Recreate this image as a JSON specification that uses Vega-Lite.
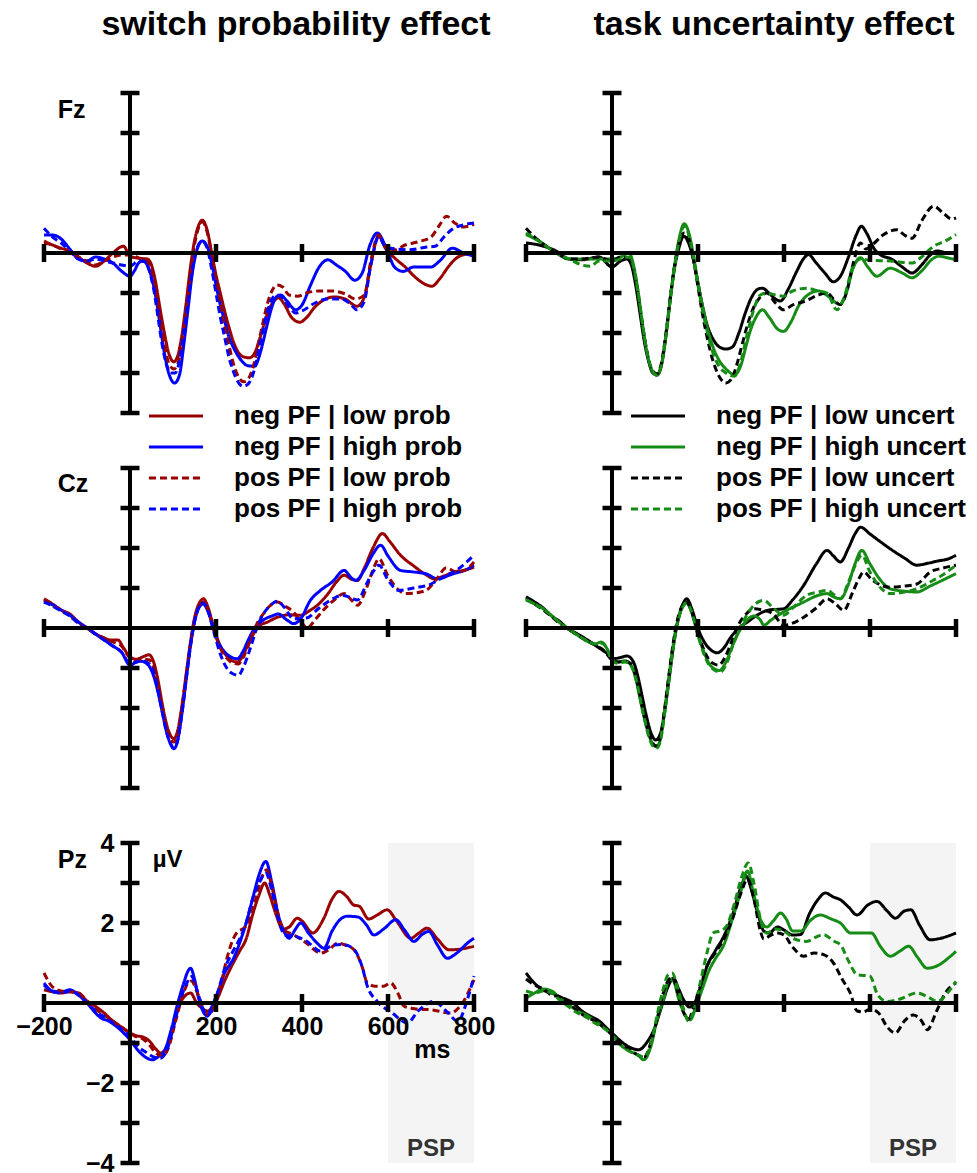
{
"$schema":"https://vega.github.io/schema/vega-lite/v6.json",
"padding":{"left":15,"top":7,"right":0,"bottom":0},
"bounds":"flush",
"config":{"view":{"stroke":null},"font":"Liberation Sans"},
"datasets":{
"xt":[{"t":-200},{"t":200},{"t":400},{"t":600},{"t":800}],
"yt":[{"v":-4},{"v":-3},{"v":-2},{"v":-1},{"v":1},{"v":2},{"v":3},{"v":4}],
"psp":[{"from":600,"to":800}],
"FzL":[
{"c":"nl","t":-200,"v":0.3},{"c":"nl","t":-180,"v":0.2},{"c":"nl","t":-160,"v":0.12},{"c":"nl","t":-140,"v":0.05},{"c":"nl","t":-120,"v":-0.1},{"c":"nl","t":-100,"v":-0.25},{"c":"nl","t":-80,"v":-0.33},{"c":"nl","t":-60,"v":-0.2},{"c":"nl","t":-40,"v":0},{"c":"nl","t":-15,"v":0.17},{"c":"nl","t":0,"v":-0.08},{"c":"nl","t":20,"v":-0.13},{"c":"nl","t":40,"v":-0.15},{"c":"nl","t":50,"v":-0.3},{"c":"nl","t":60,"v":-0.75},{"c":"nl","t":70,"v":-1.4},{"c":"nl","t":80,"v":-2},{"c":"nl","t":90,"v":-2.5},{"c":"nl","t":102,"v":-2.72},{"c":"nl","t":110,"v":-2.6},{"c":"nl","t":120,"v":-2.1},{"c":"nl","t":130,"v":-1.3},{"c":"nl","t":140,"v":-0.4},{"c":"nl","t":150,"v":0.3},{"c":"nl","t":160,"v":0.7},{"c":"nl","t":168,"v":0.82},{"c":"nl","t":180,"v":0.55},{"c":"nl","t":190,"v":0},{"c":"nl","t":200,"v":-0.55},{"c":"nl","t":210,"v":-1},{"c":"nl","t":220,"v":-1.45},{"c":"nl","t":230,"v":-1.85},{"c":"nl","t":240,"v":-2.2},{"c":"nl","t":250,"v":-2.45},{"c":"nl","t":265,"v":-2.6},{"c":"nl","t":278,"v":-2.62},{"c":"nl","t":290,"v":-2.5},{"c":"nl","t":300,"v":-2.2},{"c":"nl","t":310,"v":-1.85},{"c":"nl","t":320,"v":-1.5},{"c":"nl","t":335,"v":-1.2},{"c":"nl","t":345,"v":-1.12},{"c":"nl","t":360,"v":-1.3},{"c":"nl","t":375,"v":-1.6},{"c":"nl","t":395,"v":-1.73},{"c":"nl","t":410,"v":-1.62},{"c":"nl","t":430,"v":-1.35},{"c":"nl","t":455,"v":-1.15},{"c":"nl","t":475,"v":-1.1},{"c":"nl","t":500,"v":-1.15},{"c":"nl","t":528,"v":-1.33},{"c":"nl","t":545,"v":-1.1},{"c":"nl","t":560,"v":-0.3},{"c":"nl","t":578,"v":0.42},{"c":"nl","t":595,"v":0.1},{"c":"nl","t":615,"v":-0.12},{"c":"nl","t":640,"v":-0.35},{"c":"nl","t":665,"v":-0.62},{"c":"nl","t":690,"v":-0.8},{"c":"nl","t":702,"v":-0.83},{"c":"nl","t":720,"v":-0.65},{"c":"nl","t":740,"v":-0.35},{"c":"nl","t":760,"v":-0.12},{"c":"nl","t":780,"v":-0.03},{"c":"nl","t":800,"v":0},
{"c":"nh","t":-200,"v":0.45},{"c":"nh","t":-180,"v":0.45},{"c":"nh","t":-160,"v":0.35},{"c":"nh","t":-140,"v":0.1},{"c":"nh","t":-120,"v":-0.15},{"c":"nh","t":-100,"v":-0.2},{"c":"nh","t":-80,"v":-0.1},{"c":"nh","t":-60,"v":-0.15},{"c":"nh","t":-40,"v":-0.25},{"c":"nh","t":-20,"v":-0.45},{"c":"nh","t":0,"v":-0.58},{"c":"nh","t":10,"v":-0.45},{"c":"nh","t":20,"v":-0.25},{"c":"nh","t":30,"v":-0.2},{"c":"nh","t":40,"v":-0.3},{"c":"nh","t":50,"v":-0.6},{"c":"nh","t":60,"v":-1.1},{"c":"nh","t":70,"v":-1.8},{"c":"nh","t":80,"v":-2.5},{"c":"nh","t":90,"v":-3},{"c":"nh","t":104,"v":-3.25},{"c":"nh","t":115,"v":-3.05},{"c":"nh","t":125,"v":-2.3},{"c":"nh","t":135,"v":-1.4},{"c":"nh","t":145,"v":-0.5},{"c":"nh","t":155,"v":0.05},{"c":"nh","t":168,"v":0.3},{"c":"nh","t":180,"v":0.15},{"c":"nh","t":190,"v":-0.25},{"c":"nh","t":200,"v":-0.8},{"c":"nh","t":210,"v":-1.3},{"c":"nh","t":220,"v":-1.7},{"c":"nh","t":230,"v":-2.1},{"c":"nh","t":240,"v":-2.35},{"c":"nh","t":250,"v":-2.55},{"c":"nh","t":260,"v":-2.7},{"c":"nh","t":275,"v":-2.82},{"c":"nh","t":290,"v":-2.83},{"c":"nh","t":300,"v":-2.6},{"c":"nh","t":310,"v":-2.2},{"c":"nh","t":320,"v":-1.75},{"c":"nh","t":330,"v":-1.35},{"c":"nh","t":340,"v":-1.1},{"c":"nh","t":350,"v":-1.05},{"c":"nh","t":365,"v":-1.2},{"c":"nh","t":385,"v":-1.42},{"c":"nh","t":400,"v":-1.3},{"c":"nh","t":420,"v":-0.8},{"c":"nh","t":440,"v":-0.35},{"c":"nh","t":460,"v":-0.17},{"c":"nh","t":480,"v":-0.3},{"c":"nh","t":500,"v":-0.45},{"c":"nh","t":523,"v":-0.68},{"c":"nh","t":540,"v":-0.5},{"c":"nh","t":558,"v":0.2},{"c":"nh","t":575,"v":0.5},{"c":"nh","t":595,"v":0.15},{"c":"nh","t":615,"v":-0.35},{"c":"nh","t":635,"v":-0.46},{"c":"nh","t":660,"v":-0.35},{"c":"nh","t":700,"v":-0.35},{"c":"nh","t":720,"v":-0.2},{"c":"nh","t":750,"v":0.12},{"c":"nh","t":775,"v":0},{"c":"nh","t":800,"v":-0.08},
{"c":"pl","t":-200,"v":0.25},{"c":"pl","t":-180,"v":0.2},{"c":"pl","t":-160,"v":0.1},{"c":"pl","t":-140,"v":0.05},{"c":"pl","t":-120,"v":-0.1},{"c":"pl","t":-100,"v":-0.2},{"c":"pl","t":-80,"v":-0.3},{"c":"pl","t":-60,"v":-0.2},{"c":"pl","t":-40,"v":-0.1},{"c":"pl","t":-20,"v":-0.05},{"c":"pl","t":0,"v":-0.05},{"c":"pl","t":20,"v":-0.12},{"c":"pl","t":40,"v":-0.2},{"c":"pl","t":50,"v":-0.4},{"c":"pl","t":60,"v":-0.9},{"c":"pl","t":70,"v":-1.6},{"c":"pl","t":80,"v":-2.3},{"c":"pl","t":90,"v":-2.75},{"c":"pl","t":102,"v":-2.9},{"c":"pl","t":112,"v":-2.75},{"c":"pl","t":120,"v":-2.3},{"c":"pl","t":130,"v":-1.5},{"c":"pl","t":140,"v":-0.6},{"c":"pl","t":150,"v":0.2},{"c":"pl","t":160,"v":0.65},{"c":"pl","t":168,"v":0.78},{"c":"pl","t":180,"v":0.5},{"c":"pl","t":190,"v":-0.05},{"c":"pl","t":200,"v":-0.7},{"c":"pl","t":210,"v":-1.3},{"c":"pl","t":220,"v":-1.8},{"c":"pl","t":230,"v":-2.3},{"c":"pl","t":240,"v":-2.75},{"c":"pl","t":250,"v":-3.05},{"c":"pl","t":265,"v":-3.22},{"c":"pl","t":275,"v":-3.15},{"c":"pl","t":290,"v":-2.7},{"c":"pl","t":300,"v":-2.2},{"c":"pl","t":310,"v":-1.7},{"c":"pl","t":320,"v":-1.25},{"c":"pl","t":330,"v":-0.95},{"c":"pl","t":342,"v":-0.8},{"c":"pl","t":355,"v":-0.85},{"c":"pl","t":370,"v":-1.05},{"c":"pl","t":390,"v":-1.08},{"c":"pl","t":410,"v":-1},{"c":"pl","t":440,"v":-0.95},{"c":"pl","t":470,"v":-0.95},{"c":"pl","t":500,"v":-1.02},{"c":"pl","t":525,"v":-1.15},{"c":"pl","t":545,"v":-1.05},{"c":"pl","t":560,"v":-0.2},{"c":"pl","t":578,"v":0.45},{"c":"pl","t":595,"v":0.15},{"c":"pl","t":615,"v":0.08},{"c":"pl","t":640,"v":0.2},{"c":"pl","t":670,"v":0.28},{"c":"pl","t":700,"v":0.4},{"c":"pl","t":720,"v":0.7},{"c":"pl","t":736,"v":0.92},{"c":"pl","t":755,"v":0.75},{"c":"pl","t":775,"v":0.65},{"c":"pl","t":800,"v":0.72},
{"c":"ph","t":-200,"v":0.62},{"c":"ph","t":-180,"v":0.4},{"c":"ph","t":-160,"v":0.25},{"c":"ph","t":-140,"v":0.05},{"c":"ph","t":-120,"v":-0.15},{"c":"ph","t":-100,"v":-0.2},{"c":"ph","t":-80,"v":-0.15},{"c":"ph","t":-60,"v":-0.2},{"c":"ph","t":-40,"v":-0.25},{"c":"ph","t":-20,"v":-0.3},{"c":"ph","t":0,"v":-0.33},{"c":"ph","t":20,"v":-0.2},{"c":"ph","t":35,"v":-0.22},{"c":"ph","t":45,"v":-0.45},{"c":"ph","t":55,"v":-0.9},{"c":"ph","t":65,"v":-1.6},{"c":"ph","t":75,"v":-2.3},{"c":"ph","t":85,"v":-2.8},{"c":"ph","t":95,"v":-3},{"c":"ph","t":105,"v":-3},{"c":"ph","t":115,"v":-2.7},{"c":"ph","t":125,"v":-2},{"c":"ph","t":135,"v":-1.2},{"c":"ph","t":145,"v":-0.4},{"c":"ph","t":155,"v":0.1},{"c":"ph","t":168,"v":0.3},{"c":"ph","t":180,"v":0.1},{"c":"ph","t":190,"v":-0.4},{"c":"ph","t":200,"v":-1},{"c":"ph","t":210,"v":-1.6},{"c":"ph","t":220,"v":-2.1},{"c":"ph","t":230,"v":-2.6},{"c":"ph","t":240,"v":-2.95},{"c":"ph","t":250,"v":-3.2},{"c":"ph","t":262,"v":-3.33},{"c":"ph","t":272,"v":-3.3},{"c":"ph","t":282,"v":-3.15},{"c":"ph","t":292,"v":-2.8},{"c":"ph","t":300,"v":-2.4},{"c":"ph","t":310,"v":-1.9},{"c":"ph","t":320,"v":-1.45},{"c":"ph","t":330,"v":-1.15},{"c":"ph","t":342,"v":-1.05},{"c":"ph","t":355,"v":-1.12},{"c":"ph","t":370,"v":-1.35},{"c":"ph","t":385,"v":-1.5},{"c":"ph","t":400,"v":-1.45},{"c":"ph","t":430,"v":-1.25},{"c":"ph","t":460,"v":-1.15},{"c":"ph","t":490,"v":-1.15},{"c":"ph","t":510,"v":-1.25},{"c":"ph","t":528,"v":-1.42},{"c":"ph","t":545,"v":-1.2},{"c":"ph","t":560,"v":-0.3},{"c":"ph","t":578,"v":0.4},{"c":"ph","t":595,"v":0.15},{"c":"ph","t":620,"v":0.1},{"c":"ph","t":650,"v":0.08},{"c":"ph","t":690,"v":0.15},{"c":"ph","t":710,"v":0.17},{"c":"ph","t":730,"v":0.4},{"c":"ph","t":750,"v":0.6},{"c":"ph","t":775,"v":0.7},{"c":"ph","t":800,"v":0.75}
],
"FzR":[
{"c":"nl","t":-200,"v":0.25},{"c":"nl","t":-170,"v":0.2},{"c":"nl","t":-130,"v":0.05},{"c":"nl","t":-100,"v":-0.15},{"c":"nl","t":-70,"v":-0.17},{"c":"nl","t":-30,"v":-0.1},{"c":"nl","t":0,"v":-0.35},{"c":"nl","t":20,"v":-0.2},{"c":"nl","t":35,"v":-0.15},{"c":"nl","t":45,"v":-0.3},{"c":"nl","t":55,"v":-0.8},{"c":"nl","t":65,"v":-1.5},{"c":"nl","t":75,"v":-2.2},{"c":"nl","t":85,"v":-2.7},{"c":"nl","t":95,"v":-3},{"c":"nl","t":105,"v":-3.05},{"c":"nl","t":115,"v":-2.8},{"c":"nl","t":125,"v":-2.1},{"c":"nl","t":135,"v":-1.2},{"c":"nl","t":145,"v":-0.4},{"c":"nl","t":155,"v":0.1},{"c":"nl","t":167,"v":0.42},{"c":"nl","t":178,"v":0.25},{"c":"nl","t":190,"v":-0.2},{"c":"nl","t":200,"v":-0.75},{"c":"nl","t":210,"v":-1.3},{"c":"nl","t":220,"v":-1.75},{"c":"nl","t":235,"v":-2.15},{"c":"nl","t":250,"v":-2.35},{"c":"nl","t":265,"v":-2.4},{"c":"nl","t":280,"v":-2.35},{"c":"nl","t":295,"v":-2},{"c":"nl","t":310,"v":-1.5},{"c":"nl","t":325,"v":-1.1},{"c":"nl","t":340,"v":-0.9},{"c":"nl","t":350,"v":-0.88},{"c":"nl","t":365,"v":-1},{"c":"nl","t":380,"v":-1.15},{"c":"nl","t":392,"v":-1.2},{"c":"nl","t":410,"v":-0.9},{"c":"nl","t":430,"v":-0.45},{"c":"nl","t":445,"v":-0.15},{"c":"nl","t":457,"v":-0.04},{"c":"nl","t":475,"v":-0.25},{"c":"nl","t":495,"v":-0.5},{"c":"nl","t":515,"v":-0.72},{"c":"nl","t":530,"v":-0.6},{"c":"nl","t":550,"v":-0.1},{"c":"nl","t":568,"v":0.45},{"c":"nl","t":580,"v":0.67},{"c":"nl","t":592,"v":0.5},{"c":"nl","t":610,"v":0.1},{"c":"nl","t":625,"v":-0.05},{"c":"nl","t":650,"v":-0.15},{"c":"nl","t":675,"v":-0.35},{"c":"nl","t":698,"v":-0.5},{"c":"nl","t":720,"v":-0.3},{"c":"nl","t":740,"v":-0.05},{"c":"nl","t":756,"v":0.05},{"c":"nl","t":780,"v":0},{"c":"nl","t":800,"v":-0.02},
{"c":"nh","t":-200,"v":0.46},{"c":"nh","t":-170,"v":0.3},{"c":"nh","t":-130,"v":0},{"c":"nh","t":-100,"v":-0.15},{"c":"nh","t":-70,"v":-0.15},{"c":"nh","t":-30,"v":-0.15},{"c":"nh","t":0,"v":-0.15},{"c":"nh","t":20,"v":-0.1},{"c":"nh","t":40,"v":0},{"c":"nh","t":50,"v":-0.3},{"c":"nh","t":60,"v":-0.9},{"c":"nh","t":70,"v":-1.7},{"c":"nh","t":80,"v":-2.4},{"c":"nh","t":90,"v":-2.85},{"c":"nh","t":104,"v":-3.05},{"c":"nh","t":115,"v":-2.8},{"c":"nh","t":125,"v":-2.1},{"c":"nh","t":135,"v":-1.2},{"c":"nh","t":145,"v":-0.35},{"c":"nh","t":155,"v":0.3},{"c":"nh","t":168,"v":0.73},{"c":"nh","t":180,"v":0.45},{"c":"nh","t":190,"v":-0.1},{"c":"nh","t":200,"v":-0.75},{"c":"nh","t":210,"v":-1.3},{"c":"nh","t":220,"v":-1.8},{"c":"nh","t":235,"v":-2.35},{"c":"nh","t":250,"v":-2.7},{"c":"nh","t":265,"v":-2.9},{"c":"nh","t":285,"v":-3.04},{"c":"nh","t":300,"v":-2.8},{"c":"nh","t":310,"v":-2.4},{"c":"nh","t":320,"v":-2},{"c":"nh","t":335,"v":-1.6},{"c":"nh","t":350,"v":-1.42},{"c":"nh","t":365,"v":-1.6},{"c":"nh","t":385,"v":-1.9},{"c":"nh","t":399,"v":-1.96},{"c":"nh","t":415,"v":-1.75},{"c":"nh","t":435,"v":-1.3},{"c":"nh","t":455,"v":-1.05},{"c":"nh","t":480,"v":-0.95},{"c":"nh","t":505,"v":-1.1},{"c":"nh","t":530,"v":-1.29},{"c":"nh","t":545,"v":-1},{"c":"nh","t":560,"v":-0.4},{"c":"nh","t":578,"v":-0.12},{"c":"nh","t":595,"v":-0.35},{"c":"nh","t":616,"v":-0.58},{"c":"nh","t":647,"v":-0.38},{"c":"nh","t":675,"v":-0.5},{"c":"nh","t":698,"v":-0.62},{"c":"nh","t":720,"v":-0.45},{"c":"nh","t":745,"v":-0.15},{"c":"nh","t":760,"v":-0.08},{"c":"nh","t":780,"v":-0.12},{"c":"nh","t":800,"v":-0.17},
{"c":"pl","t":-200,"v":0.62},{"c":"pl","t":-180,"v":0.4},{"c":"pl","t":-150,"v":0.15},{"c":"pl","t":-120,"v":-0.05},{"c":"pl","t":-100,"v":-0.15},{"c":"pl","t":-70,"v":-0.15},{"c":"pl","t":-30,"v":-0.1},{"c":"pl","t":0,"v":-0.2},{"c":"pl","t":20,"v":-0.1},{"c":"pl","t":40,"v":-0.15},{"c":"pl","t":50,"v":-0.4},{"c":"pl","t":60,"v":-1},{"c":"pl","t":70,"v":-1.75},{"c":"pl","t":80,"v":-2.4},{"c":"pl","t":90,"v":-2.85},{"c":"pl","t":104,"v":-3.02},{"c":"pl","t":115,"v":-2.75},{"c":"pl","t":125,"v":-2.05},{"c":"pl","t":135,"v":-1.15},{"c":"pl","t":145,"v":-0.35},{"c":"pl","t":155,"v":0.2},{"c":"pl","t":168,"v":0.5},{"c":"pl","t":180,"v":0.3},{"c":"pl","t":190,"v":-0.2},{"c":"pl","t":200,"v":-0.85},{"c":"pl","t":210,"v":-1.5},{"c":"pl","t":220,"v":-2.05},{"c":"pl","t":235,"v":-2.7},{"c":"pl","t":250,"v":-3.1},{"c":"pl","t":265,"v":-3.25},{"c":"pl","t":278,"v":-3.15},{"c":"pl","t":290,"v":-2.8},{"c":"pl","t":300,"v":-2.4},{"c":"pl","t":315,"v":-1.8},{"c":"pl","t":330,"v":-1.35},{"c":"pl","t":345,"v":-1.1},{"c":"pl","t":360,"v":-1},{"c":"pl","t":380,"v":-1.25},{"c":"pl","t":399,"v":-1.42},{"c":"pl","t":420,"v":-1.3},{"c":"pl","t":450,"v":-1.2},{"c":"pl","t":480,"v":-1.05},{"c":"pl","t":500,"v":-1},{"c":"pl","t":515,"v":-1.15},{"c":"pl","t":530,"v":-1.29},{"c":"pl","t":545,"v":-1},{"c":"pl","t":560,"v":-0.3},{"c":"pl","t":578,"v":0.25},{"c":"pl","t":590,"v":0.1},{"c":"pl","t":605,"v":0.2},{"c":"pl","t":630,"v":0.45},{"c":"pl","t":663,"v":0.58},{"c":"pl","t":680,"v":0.45},{"c":"pl","t":698,"v":0.37},{"c":"pl","t":720,"v":0.8},{"c":"pl","t":748,"v":1.17},{"c":"pl","t":770,"v":1},{"c":"pl","t":790,"v":0.85},{"c":"pl","t":800,"v":0.88},
{"c":"ph","t":-200,"v":0.5},{"c":"ph","t":-170,"v":0.3},{"c":"ph","t":-130,"v":0},{"c":"ph","t":-100,"v":-0.15},{"c":"ph","t":-70,"v":-0.3},{"c":"ph","t":-50,"v":-0.33},{"c":"ph","t":-30,"v":-0.2},{"c":"ph","t":0,"v":-0.2},{"c":"ph","t":20,"v":-0.15},{"c":"ph","t":40,"v":-0.1},{"c":"ph","t":50,"v":-0.35},{"c":"ph","t":60,"v":-0.95},{"c":"ph","t":70,"v":-1.7},{"c":"ph","t":80,"v":-2.4},{"c":"ph","t":90,"v":-2.85},{"c":"ph","t":104,"v":-3.05},{"c":"ph","t":115,"v":-2.8},{"c":"ph","t":125,"v":-2.1},{"c":"ph","t":135,"v":-1.2},{"c":"ph","t":145,"v":-0.4},{"c":"ph","t":155,"v":0.25},{"c":"ph","t":168,"v":0.67},{"c":"ph","t":180,"v":0.4},{"c":"ph","t":190,"v":-0.15},{"c":"ph","t":200,"v":-0.8},{"c":"ph","t":210,"v":-1.4},{"c":"ph","t":220,"v":-1.9},{"c":"ph","t":235,"v":-2.5},{"c":"ph","t":250,"v":-2.85},{"c":"ph","t":265,"v":-3},{"c":"ph","t":285,"v":-3.08},{"c":"ph","t":300,"v":-2.7},{"c":"ph","t":315,"v":-2},{"c":"ph","t":330,"v":-1.4},{"c":"ph","t":345,"v":-1.05},{"c":"ph","t":360,"v":-1},{"c":"ph","t":380,"v":-1.05},{"c":"ph","t":399,"v":-1.08},{"c":"ph","t":420,"v":-0.95},{"c":"ph","t":453,"v":-0.88},{"c":"ph","t":480,"v":-0.95},{"c":"ph","t":500,"v":-1},{"c":"ph","t":523,"v":-1.42},{"c":"ph","t":540,"v":-1.1},{"c":"ph","t":560,"v":-0.35},{"c":"ph","t":578,"v":-0.15},{"c":"ph","t":600,"v":-0.18},{"c":"ph","t":647,"v":-0.2},{"c":"ph","t":698,"v":-0.25},{"c":"ph","t":720,"v":-0.1},{"c":"ph","t":748,"v":0.17},{"c":"ph","t":775,"v":0.3},{"c":"ph","t":800,"v":0.46}
],
"CzL":[
{"c":"nl","t":-200,"v":0.73},{"c":"nl","t":-180,"v":0.6},{"c":"nl","t":-160,"v":0.45},{"c":"nl","t":-140,"v":0.35},{"c":"nl","t":-120,"v":0.15},{"c":"nl","t":-100,"v":0},{"c":"nl","t":-80,"v":-0.15},{"c":"nl","t":-60,"v":-0.25},{"c":"nl","t":-45,"v":-0.3},{"c":"nl","t":-28,"v":-0.3},{"c":"nl","t":-15,"v":-0.5},{"c":"nl","t":0,"v":-0.72},{"c":"nl","t":15,"v":-0.78},{"c":"nl","t":30,"v":-0.72},{"c":"nl","t":44,"v":-0.67},{"c":"nl","t":55,"v":-0.85},{"c":"nl","t":65,"v":-1.3},{"c":"nl","t":75,"v":-1.9},{"c":"nl","t":85,"v":-2.4},{"c":"nl","t":95,"v":-2.7},{"c":"nl","t":102,"v":-2.77},{"c":"nl","t":110,"v":-2.6},{"c":"nl","t":120,"v":-2},{"c":"nl","t":130,"v":-1.2},{"c":"nl","t":140,"v":-0.4},{"c":"nl","t":150,"v":0.25},{"c":"nl","t":160,"v":0.6},{"c":"nl","t":171,"v":0.73},{"c":"nl","t":182,"v":0.5},{"c":"nl","t":195,"v":0},{"c":"nl","t":210,"v":-0.45},{"c":"nl","t":225,"v":-0.7},{"c":"nl","t":240,"v":-0.83},{"c":"nl","t":250,"v":-0.85},{"c":"nl","t":262,"v":-0.7},{"c":"nl","t":275,"v":-0.4},{"c":"nl","t":290,"v":-0.1},{"c":"nl","t":300,"v":0.05},{"c":"nl","t":320,"v":0.15},{"c":"nl","t":343,"v":0.27},{"c":"nl","t":370,"v":0.33},{"c":"nl","t":397,"v":0.32},{"c":"nl","t":420,"v":0.45},{"c":"nl","t":436,"v":0.57},{"c":"nl","t":460,"v":0.85},{"c":"nl","t":480,"v":1.15},{"c":"nl","t":498,"v":1.32},{"c":"nl","t":515,"v":1.22},{"c":"nl","t":529,"v":1.19},{"c":"nl","t":545,"v":1.5},{"c":"nl","t":565,"v":2},{"c":"nl","t":587,"v":2.36},{"c":"nl","t":605,"v":2.15},{"c":"nl","t":629,"v":1.82},{"c":"nl","t":660,"v":1.55},{"c":"nl","t":690,"v":1.32},{"c":"nl","t":707,"v":1.23},{"c":"nl","t":730,"v":1.3},{"c":"nl","t":753,"v":1.4},{"c":"nl","t":780,"v":1.45},{"c":"nl","t":800,"v":1.52},
{"c":"nh","t":-200,"v":0.65},{"c":"nh","t":-180,"v":0.58},{"c":"nh","t":-160,"v":0.45},{"c":"nh","t":-140,"v":0.32},{"c":"nh","t":-120,"v":0.15},{"c":"nh","t":-100,"v":0},{"c":"nh","t":-80,"v":-0.15},{"c":"nh","t":-60,"v":-0.3},{"c":"nh","t":-40,"v":-0.45},{"c":"nh","t":-20,"v":-0.6},{"c":"nh","t":0,"v":-0.93},{"c":"nh","t":15,"v":-0.85},{"c":"nh","t":25,"v":-0.83},{"c":"nh","t":40,"v":-0.9},{"c":"nh","t":55,"v":-1.2},{"c":"nh","t":65,"v":-1.6},{"c":"nh","t":75,"v":-2.1},{"c":"nh","t":85,"v":-2.6},{"c":"nh","t":95,"v":-2.92},{"c":"nh","t":102,"v":-3.02},{"c":"nh","t":110,"v":-2.85},{"c":"nh","t":120,"v":-2.2},{"c":"nh","t":130,"v":-1.35},{"c":"nh","t":140,"v":-0.5},{"c":"nh","t":150,"v":0.15},{"c":"nh","t":160,"v":0.5},{"c":"nh","t":170,"v":0.6},{"c":"nh","t":182,"v":0.4},{"c":"nh","t":195,"v":-0.05},{"c":"nh","t":210,"v":-0.45},{"c":"nh","t":225,"v":-0.65},{"c":"nh","t":240,"v":-0.75},{"c":"nh","t":250,"v":-0.77},{"c":"nh","t":262,"v":-0.6},{"c":"nh","t":275,"v":-0.3},{"c":"nh","t":290,"v":0},{"c":"nh","t":310,"v":0.2},{"c":"nh","t":330,"v":0.3},{"c":"nh","t":345,"v":0.35},{"c":"nh","t":365,"v":0.2},{"c":"nh","t":380,"v":0.11},{"c":"nh","t":395,"v":0.2},{"c":"nh","t":420,"v":0.7},{"c":"nh","t":443,"v":0.94},{"c":"nh","t":470,"v":1.15},{"c":"nh","t":498,"v":1.44},{"c":"nh","t":515,"v":1.25},{"c":"nh","t":525,"v":1.19},{"c":"nh","t":545,"v":1.45},{"c":"nh","t":565,"v":1.85},{"c":"nh","t":583,"v":2.07},{"c":"nh","t":600,"v":1.8},{"c":"nh","t":629,"v":1.44},{"c":"nh","t":660,"v":1.4},{"c":"nh","t":690,"v":1.35},{"c":"nh","t":715,"v":1.23},{"c":"nh","t":750,"v":1.35},{"c":"nh","t":780,"v":1.45},{"c":"nh","t":800,"v":1.57},
{"c":"pl","t":-200,"v":0.7},{"c":"pl","t":-180,"v":0.55},{"c":"pl","t":-160,"v":0.45},{"c":"pl","t":-140,"v":0.3},{"c":"pl","t":-120,"v":0.12},{"c":"pl","t":-100,"v":0},{"c":"pl","t":-80,"v":-0.15},{"c":"pl","t":-60,"v":-0.25},{"c":"pl","t":-40,"v":-0.35},{"c":"pl","t":-20,"v":-0.45},{"c":"pl","t":0,"v":-0.75},{"c":"pl","t":15,"v":-0.8},{"c":"pl","t":30,"v":-0.78},{"c":"pl","t":45,"v":-0.8},{"c":"pl","t":55,"v":-1},{"c":"pl","t":65,"v":-1.45},{"c":"pl","t":75,"v":-2},{"c":"pl","t":85,"v":-2.5},{"c":"pl","t":95,"v":-2.8},{"c":"pl","t":102,"v":-2.85},{"c":"pl","t":110,"v":-2.7},{"c":"pl","t":120,"v":-2.05},{"c":"pl","t":130,"v":-1.25},{"c":"pl","t":140,"v":-0.45},{"c":"pl","t":150,"v":0.2},{"c":"pl","t":160,"v":0.55},{"c":"pl","t":170,"v":0.65},{"c":"pl","t":182,"v":0.45},{"c":"pl","t":195,"v":-0.05},{"c":"pl","t":210,"v":-0.5},{"c":"pl","t":225,"v":-0.75},{"c":"pl","t":240,"v":-0.88},{"c":"pl","t":252,"v":-0.9},{"c":"pl","t":265,"v":-0.7},{"c":"pl","t":280,"v":-0.3},{"c":"pl","t":295,"v":0.1},{"c":"pl","t":310,"v":0.35},{"c":"pl","t":325,"v":0.55},{"c":"pl","t":343,"v":0.65},{"c":"pl","t":360,"v":0.55},{"c":"pl","t":380,"v":0.4},{"c":"pl","t":398,"v":0.15},{"c":"pl","t":412,"v":0},{"c":"pl","t":430,"v":0.2},{"c":"pl","t":450,"v":0.45},{"c":"pl","t":475,"v":0.7},{"c":"pl","t":498,"v":0.86},{"c":"pl","t":515,"v":0.7},{"c":"pl","t":529,"v":0.57},{"c":"pl","t":550,"v":1},{"c":"pl","t":565,"v":1.45},{"c":"pl","t":579,"v":1.73},{"c":"pl","t":600,"v":1.3},{"c":"pl","t":625,"v":0.95},{"c":"pl","t":640,"v":0.86},{"c":"pl","t":665,"v":0.88},{"c":"pl","t":690,"v":0.95},{"c":"pl","t":715,"v":1.25},{"c":"pl","t":735,"v":1.5},{"c":"pl","t":760,"v":1.4},{"c":"pl","t":780,"v":1.45},{"c":"pl","t":800,"v":1.65},
{"c":"ph","t":-200,"v":0.65},{"c":"ph","t":-180,"v":0.55},{"c":"ph","t":-160,"v":0.42},{"c":"ph","t":-140,"v":0.3},{"c":"ph","t":-120,"v":0.12},{"c":"ph","t":-100,"v":0},{"c":"ph","t":-80,"v":-0.15},{"c":"ph","t":-60,"v":-0.3},{"c":"ph","t":-40,"v":-0.45},{"c":"ph","t":-20,"v":-0.6},{"c":"ph","t":0,"v":-0.88},{"c":"ph","t":15,"v":-0.85},{"c":"ph","t":30,"v":-0.82},{"c":"ph","t":45,"v":-0.9},{"c":"ph","t":55,"v":-1.1},{"c":"ph","t":65,"v":-1.55},{"c":"ph","t":75,"v":-2.1},{"c":"ph","t":85,"v":-2.6},{"c":"ph","t":95,"v":-2.9},{"c":"ph","t":102,"v":-3},{"c":"ph","t":110,"v":-2.85},{"c":"ph","t":120,"v":-2.2},{"c":"ph","t":130,"v":-1.35},{"c":"ph","t":140,"v":-0.5},{"c":"ph","t":150,"v":0.15},{"c":"ph","t":160,"v":0.52},{"c":"ph","t":170,"v":0.62},{"c":"ph","t":182,"v":0.4},{"c":"ph","t":195,"v":-0.1},{"c":"ph","t":210,"v":-0.65},{"c":"ph","t":225,"v":-1},{"c":"ph","t":240,"v":-1.15},{"c":"ph","t":252,"v":-1.18},{"c":"ph","t":265,"v":-0.95},{"c":"ph","t":280,"v":-0.5},{"c":"ph","t":295,"v":0},{"c":"ph","t":310,"v":0.35},{"c":"ph","t":325,"v":0.55},{"c":"ph","t":343,"v":0.67},{"c":"ph","t":360,"v":0.5},{"c":"ph","t":380,"v":0.23},{"c":"ph","t":410,"v":0.25},{"c":"ph","t":440,"v":0.5},{"c":"ph","t":475,"v":0.75},{"c":"ph","t":495,"v":0.82},{"c":"ph","t":515,"v":0.75},{"c":"ph","t":529,"v":0.7},{"c":"ph","t":550,"v":1.1},{"c":"ph","t":565,"v":1.4},{"c":"ph","t":579,"v":1.57},{"c":"ph","t":600,"v":1.2},{"c":"ph","t":625,"v":0.94},{"c":"ph","t":660,"v":1},{"c":"ph","t":700,"v":1.1},{"c":"ph","t":722,"v":1.23},{"c":"ph","t":760,"v":1.45},{"c":"ph","t":800,"v":1.82}
],
"CzR":[
{"c":"nl","t":-200,"v":0.78},{"c":"nl","t":-180,"v":0.65},{"c":"nl","t":-160,"v":0.5},{"c":"nl","t":-140,"v":0.3},{"c":"nl","t":-120,"v":0.15},{"c":"nl","t":-105,"v":0},{"c":"nl","t":-80,"v":-0.15},{"c":"nl","t":-60,"v":-0.28},{"c":"nl","t":-50,"v":-0.35},{"c":"nl","t":-30,"v":-0.5},{"c":"nl","t":-10,"v":-0.65},{"c":"nl","t":0,"v":-0.77},{"c":"nl","t":15,"v":-0.75},{"c":"nl","t":35,"v":-0.7},{"c":"nl","t":50,"v":-0.85},{"c":"nl","t":60,"v":-1.2},{"c":"nl","t":70,"v":-1.7},{"c":"nl","t":80,"v":-2.2},{"c":"nl","t":90,"v":-2.6},{"c":"nl","t":102,"v":-2.8},{"c":"nl","t":115,"v":-2.55},{"c":"nl","t":125,"v":-1.9},{"c":"nl","t":135,"v":-1.1},{"c":"nl","t":145,"v":-0.3},{"c":"nl","t":155,"v":0.25},{"c":"nl","t":165,"v":0.6},{"c":"nl","t":174,"v":0.73},{"c":"nl","t":185,"v":0.5},{"c":"nl","t":198,"v":0.05},{"c":"nl","t":212,"v":-0.3},{"c":"nl","t":230,"v":-0.55},{"c":"nl","t":245,"v":-0.62},{"c":"nl","t":260,"v":-0.5},{"c":"nl","t":275,"v":-0.25},{"c":"nl","t":295,"v":0},{"c":"nl","t":315,"v":0.15},{"c":"nl","t":337,"v":0.32},{"c":"nl","t":365,"v":0.45},{"c":"nl","t":399,"v":0.48},{"c":"nl","t":420,"v":0.7},{"c":"nl","t":446,"v":1.07},{"c":"nl","t":475,"v":1.6},{"c":"nl","t":500,"v":1.94},{"c":"nl","t":515,"v":1.8},{"c":"nl","t":531,"v":1.65},{"c":"nl","t":550,"v":2},{"c":"nl","t":565,"v":2.35},{"c":"nl","t":578,"v":2.52},{"c":"nl","t":600,"v":2.35},{"c":"nl","t":625,"v":2.15},{"c":"nl","t":647,"v":1.98},{"c":"nl","t":680,"v":1.75},{"c":"nl","t":709,"v":1.57},{"c":"nl","t":735,"v":1.62},{"c":"nl","t":760,"v":1.68},{"c":"nl","t":780,"v":1.72},{"c":"nl","t":800,"v":1.82},
{"c":"nh","t":-200,"v":0.7},{"c":"nh","t":-180,"v":0.6},{"c":"nh","t":-160,"v":0.48},{"c":"nh","t":-140,"v":0.3},{"c":"nh","t":-120,"v":0.12},{"c":"nh","t":-105,"v":0},{"c":"nh","t":-80,"v":-0.18},{"c":"nh","t":-60,"v":-0.32},{"c":"nh","t":-40,"v":-0.4},{"c":"nh","t":-25,"v":-0.35},{"c":"nh","t":-10,"v":-0.55},{"c":"nh","t":0,"v":-0.8},{"c":"nh","t":15,"v":-0.85},{"c":"nh","t":30,"v":-0.82},{"c":"nh","t":45,"v":-0.95},{"c":"nh","t":55,"v":-1.25},{"c":"nh","t":65,"v":-1.75},{"c":"nh","t":75,"v":-2.25},{"c":"nh","t":85,"v":-2.65},{"c":"nh","t":95,"v":-2.9},{"c":"nh","t":103,"v":-2.97},{"c":"nh","t":112,"v":-2.8},{"c":"nh","t":122,"v":-2.1},{"c":"nh","t":132,"v":-1.25},{"c":"nh","t":142,"v":-0.45},{"c":"nh","t":152,"v":0.15},{"c":"nh","t":163,"v":0.5},{"c":"nh","t":174,"v":0.63},{"c":"nh","t":185,"v":0.4},{"c":"nh","t":198,"v":-0.1},{"c":"nh","t":212,"v":-0.55},{"c":"nh","t":230,"v":-0.95},{"c":"nh","t":250,"v":-1.06},{"c":"nh","t":265,"v":-0.85},{"c":"nh","t":280,"v":-0.45},{"c":"nh","t":295,"v":-0.1},{"c":"nh","t":310,"v":0.15},{"c":"nh","t":330,"v":0.3},{"c":"nh","t":345,"v":0.2},{"c":"nh","t":353,"v":0.07},{"c":"nh","t":370,"v":0.2},{"c":"nh","t":399,"v":0.4},{"c":"nh","t":446,"v":0.65},{"c":"nh","t":475,"v":0.8},{"c":"nh","t":500,"v":0.86},{"c":"nh","t":515,"v":0.78},{"c":"nh","t":531,"v":0.73},{"c":"nh","t":550,"v":1.1},{"c":"nh","t":565,"v":1.6},{"c":"nh","t":581,"v":1.94},{"c":"nh","t":600,"v":1.6},{"c":"nh","t":622,"v":1.23},{"c":"nh","t":647,"v":0.98},{"c":"nh","t":680,"v":0.92},{"c":"nh","t":709,"v":0.9},{"c":"nh","t":740,"v":1.05},{"c":"nh","t":760,"v":1.15},{"c":"nh","t":800,"v":1.36},
{"c":"pl","t":-200,"v":0.75},{"c":"pl","t":-180,"v":0.6},{"c":"pl","t":-160,"v":0.45},{"c":"pl","t":-140,"v":0.28},{"c":"pl","t":-120,"v":0.1},{"c":"pl","t":-105,"v":0},{"c":"pl","t":-80,"v":-0.18},{"c":"pl","t":-60,"v":-0.3},{"c":"pl","t":-40,"v":-0.42},{"c":"pl","t":-20,"v":-0.55},{"c":"pl","t":0,"v":-0.8},{"c":"pl","t":15,"v":-0.85},{"c":"pl","t":30,"v":-0.83},{"c":"pl","t":45,"v":-0.9},{"c":"pl","t":55,"v":-1.2},{"c":"pl","t":65,"v":-1.7},{"c":"pl","t":75,"v":-2.2},{"c":"pl","t":85,"v":-2.6},{"c":"pl","t":95,"v":-2.88},{"c":"pl","t":103,"v":-2.95},{"c":"pl","t":112,"v":-2.75},{"c":"pl","t":122,"v":-2.05},{"c":"pl","t":132,"v":-1.2},{"c":"pl","t":142,"v":-0.4},{"c":"pl","t":152,"v":0.2},{"c":"pl","t":163,"v":0.55},{"c":"pl","t":172,"v":0.65},{"c":"pl","t":185,"v":0.42},{"c":"pl","t":198,"v":-0.05},{"c":"pl","t":212,"v":-0.5},{"c":"pl","t":230,"v":-0.85},{"c":"pl","t":248,"v":-0.93},{"c":"pl","t":262,"v":-0.75},{"c":"pl","t":278,"v":-0.35},{"c":"pl","t":295,"v":0.1},{"c":"pl","t":312,"v":0.35},{"c":"pl","t":330,"v":0.48},{"c":"pl","t":350,"v":0.45},{"c":"pl","t":375,"v":0.35},{"c":"pl","t":399,"v":0.07},{"c":"pl","t":420,"v":0.12},{"c":"pl","t":446,"v":0.27},{"c":"pl","t":475,"v":0.5},{"c":"pl","t":500,"v":0.73},{"c":"pl","t":520,"v":0.6},{"c":"pl","t":539,"v":0.44},{"c":"pl","t":560,"v":0.9},{"c":"pl","t":575,"v":1.25},{"c":"pl","t":585,"v":1.4},{"c":"pl","t":605,"v":1.2},{"c":"pl","t":647,"v":1.02},{"c":"pl","t":680,"v":1.05},{"c":"pl","t":709,"v":1.1},{"c":"pl","t":740,"v":1.4},{"c":"pl","t":770,"v":1.5},{"c":"pl","t":800,"v":1.57},
{"c":"ph","t":-200,"v":0.72},{"c":"ph","t":-180,"v":0.6},{"c":"ph","t":-160,"v":0.47},{"c":"ph","t":-140,"v":0.3},{"c":"ph","t":-120,"v":0.12},{"c":"ph","t":-105,"v":0},{"c":"ph","t":-80,"v":-0.18},{"c":"ph","t":-60,"v":-0.3},{"c":"ph","t":-40,"v":-0.4},{"c":"ph","t":-25,"v":-0.38},{"c":"ph","t":-10,"v":-0.55},{"c":"ph","t":0,"v":-0.85},{"c":"ph","t":15,"v":-0.88},{"c":"ph","t":30,"v":-0.85},{"c":"ph","t":45,"v":-0.95},{"c":"ph","t":55,"v":-1.25},{"c":"ph","t":65,"v":-1.75},{"c":"ph","t":75,"v":-2.25},{"c":"ph","t":85,"v":-2.7},{"c":"ph","t":95,"v":-2.95},{"c":"ph","t":104,"v":-3},{"c":"ph","t":113,"v":-2.8},{"c":"ph","t":123,"v":-2.1},{"c":"ph","t":133,"v":-1.25},{"c":"ph","t":143,"v":-0.45},{"c":"ph","t":153,"v":0.15},{"c":"ph","t":163,"v":0.5},{"c":"ph","t":173,"v":0.62},{"c":"ph","t":185,"v":0.4},{"c":"ph","t":198,"v":-0.1},{"c":"ph","t":212,"v":-0.6},{"c":"ph","t":230,"v":-0.98},{"c":"ph","t":252,"v":-1.1},{"c":"ph","t":268,"v":-0.85},{"c":"ph","t":282,"v":-0.4},{"c":"ph","t":298,"v":0},{"c":"ph","t":315,"v":0.35},{"c":"ph","t":333,"v":0.6},{"c":"ph","t":353,"v":0.69},{"c":"ph","t":375,"v":0.5},{"c":"ph","t":399,"v":0.32},{"c":"ph","t":420,"v":0.5},{"c":"ph","t":453,"v":0.82},{"c":"ph","t":480,"v":0.9},{"c":"ph","t":500,"v":0.94},{"c":"ph","t":520,"v":0.8},{"c":"ph","t":531,"v":0.73},{"c":"ph","t":550,"v":1.15},{"c":"ph","t":567,"v":1.6},{"c":"ph","t":581,"v":1.82},{"c":"ph","t":600,"v":1.4},{"c":"ph","t":625,"v":1},{"c":"ph","t":647,"v":0.86},{"c":"ph","t":680,"v":0.9},{"c":"ph","t":709,"v":0.98},{"c":"ph","t":740,"v":1.15},{"c":"ph","t":765,"v":1.3},{"c":"ph","t":800,"v":1.57}
],
"PzL":[
{"c":"nl","t":-200,"v":0.33},{"c":"nl","t":-180,"v":0.28},{"c":"nl","t":-160,"v":0.25},{"c":"nl","t":-140,"v":0.28},{"c":"nl","t":-120,"v":0.25},{"c":"nl","t":-100,"v":0.05},{"c":"nl","t":-85,"v":-0.05},{"c":"nl","t":-60,"v":-0.25},{"c":"nl","t":-40,"v":-0.45},{"c":"nl","t":-20,"v":-0.6},{"c":"nl","t":0,"v":-0.75},{"c":"nl","t":15,"v":-0.82},{"c":"nl","t":30,"v":-0.85},{"c":"nl","t":45,"v":-0.95},{"c":"nl","t":60,"v":-1.15},{"c":"nl","t":71,"v":-1.25},{"c":"nl","t":85,"v":-1.1},{"c":"nl","t":100,"v":-0.6},{"c":"nl","t":115,"v":-0.05},{"c":"nl","t":130,"v":0.2},{"c":"nl","t":141,"v":0.25},{"c":"nl","t":155,"v":0},{"c":"nl","t":170,"v":-0.15},{"c":"nl","t":180,"v":-0.2},{"c":"nl","t":192,"v":-0.1},{"c":"nl","t":205,"v":0.15},{"c":"nl","t":220,"v":0.55},{"c":"nl","t":240,"v":1},{"c":"nl","t":255,"v":1.3},{"c":"nl","t":270,"v":1.6},{"c":"nl","t":285,"v":2.2},{"c":"nl","t":300,"v":2.7},{"c":"nl","t":313,"v":3},{"c":"nl","t":325,"v":2.7},{"c":"nl","t":340,"v":2.2},{"c":"nl","t":355,"v":1.85},{"c":"nl","t":370,"v":1.9},{"c":"nl","t":389,"v":2.12},{"c":"nl","t":400,"v":2.05},{"c":"nl","t":425,"v":1.75},{"c":"nl","t":450,"v":2.1},{"c":"nl","t":470,"v":2.6},{"c":"nl","t":486,"v":2.79},{"c":"nl","t":505,"v":2.65},{"c":"nl","t":520,"v":2.45},{"c":"nl","t":533,"v":2.42},{"c":"nl","t":555,"v":2.1},{"c":"nl","t":575,"v":2.2},{"c":"nl","t":598,"v":2.33},{"c":"nl","t":620,"v":2.05},{"c":"nl","t":653,"v":1.62},{"c":"nl","t":672,"v":1.75},{"c":"nl","t":691,"v":1.87},{"c":"nl","t":715,"v":1.6},{"c":"nl","t":742,"v":1.33},{"c":"nl","t":770,"v":1.35},{"c":"nl","t":800,"v":1.42},
{"c":"nh","t":-200,"v":0.5},{"c":"nh","t":-180,"v":0.3},{"c":"nh","t":-160,"v":0.28},{"c":"nh","t":-140,"v":0.33},{"c":"nh","t":-120,"v":0.2},{"c":"nh","t":-100,"v":0},{"c":"nh","t":-80,"v":-0.25},{"c":"nh","t":-68,"v":-0.37},{"c":"nh","t":-50,"v":-0.45},{"c":"nh","t":-30,"v":-0.6},{"c":"nh","t":-10,"v":-0.8},{"c":"nh","t":0,"v":-0.92},{"c":"nh","t":20,"v":-1.2},{"c":"nh","t":40,"v":-1.38},{"c":"nh","t":52,"v":-1.42},{"c":"nh","t":65,"v":-1.35},{"c":"nh","t":80,"v":-1.2},{"c":"nh","t":95,"v":-0.7},{"c":"nh","t":110,"v":-0.05},{"c":"nh","t":125,"v":0.5},{"c":"nh","t":135,"v":0.8},{"c":"nh","t":141,"v":0.87},{"c":"nh","t":150,"v":0.6},{"c":"nh","t":160,"v":0.1},{"c":"nh","t":172,"v":-0.25},{"c":"nh","t":180,"v":-0.33},{"c":"nh","t":190,"v":-0.1},{"c":"nh","t":205,"v":0.3},{"c":"nh","t":220,"v":0.75},{"c":"nh","t":240,"v":1.1},{"c":"nh","t":255,"v":1.5},{"c":"nh","t":270,"v":2},{"c":"nh","t":285,"v":2.6},{"c":"nh","t":300,"v":3.2},{"c":"nh","t":316,"v":3.54},{"c":"nh","t":330,"v":3},{"c":"nh","t":345,"v":2.2},{"c":"nh","t":360,"v":1.75},{"c":"nh","t":370,"v":1.62},{"c":"nh","t":385,"v":1.85},{"c":"nh","t":397,"v":2},{"c":"nh","t":415,"v":1.75},{"c":"nh","t":435,"v":1.5},{"c":"nh","t":451,"v":1.37},{"c":"nh","t":470,"v":1.8},{"c":"nh","t":490,"v":2.1},{"c":"nh","t":505,"v":2.17},{"c":"nh","t":530,"v":2.15},{"c":"nh","t":550,"v":1.95},{"c":"nh","t":567,"v":1.7},{"c":"nh","t":590,"v":1.85},{"c":"nh","t":618,"v":2.08},{"c":"nh","t":640,"v":1.8},{"c":"nh","t":660,"v":1.54},{"c":"nh","t":680,"v":1.72},{"c":"nh","t":695,"v":1.79},{"c":"nh","t":715,"v":1.45},{"c":"nh","t":738,"v":1.12},{"c":"nh","t":760,"v":1.25},{"c":"nh","t":785,"v":1.5},{"c":"nh","t":800,"v":1.62},
{"c":"pl","t":-200,"v":0.75},{"c":"pl","t":-180,"v":0.4},{"c":"pl","t":-160,"v":0.3},{"c":"pl","t":-140,"v":0.28},{"c":"pl","t":-120,"v":0.25},{"c":"pl","t":-100,"v":0.05},{"c":"pl","t":-80,"v":-0.15},{"c":"pl","t":-60,"v":-0.3},{"c":"pl","t":-40,"v":-0.45},{"c":"pl","t":-20,"v":-0.6},{"c":"pl","t":0,"v":-0.75},{"c":"pl","t":15,"v":-0.85},{"c":"pl","t":30,"v":-0.9},{"c":"pl","t":45,"v":-1.05},{"c":"pl","t":60,"v":-1.25},{"c":"pl","t":75,"v":-1.33},{"c":"pl","t":90,"v":-1.1},{"c":"pl","t":105,"v":-0.5},{"c":"pl","t":120,"v":0.1},{"c":"pl","t":135,"v":0.5},{"c":"pl","t":143,"v":0.55},{"c":"pl","t":155,"v":0.3},{"c":"pl","t":170,"v":-0.1},{"c":"pl","t":183,"v":-0.3},{"c":"pl","t":195,"v":-0.1},{"c":"pl","t":210,"v":0.4},{"c":"pl","t":225,"v":1.1},{"c":"pl","t":240,"v":1.6},{"c":"pl","t":252,"v":1.8},{"c":"pl","t":262,"v":1.85},{"c":"pl","t":275,"v":2},{"c":"pl","t":290,"v":2.5},{"c":"pl","t":305,"v":3.1},{"c":"pl","t":318,"v":3.33},{"c":"pl","t":330,"v":2.9},{"c":"pl","t":345,"v":2.2},{"c":"pl","t":358,"v":1.83},{"c":"pl","t":380,"v":1.71},{"c":"pl","t":410,"v":1.5},{"c":"pl","t":443,"v":1.25},{"c":"pl","t":465,"v":1.35},{"c":"pl","t":482,"v":1.5},{"c":"pl","t":500,"v":1.45},{"c":"pl","t":521,"v":1.33},{"c":"pl","t":540,"v":0.9},{"c":"pl","t":552,"v":0.5},{"c":"pl","t":571,"v":0.42},{"c":"pl","t":590,"v":0.42},{"c":"pl","t":606,"v":0.5},{"c":"pl","t":625,"v":0.2},{"c":"pl","t":637,"v":-0.08},{"c":"pl","t":665,"v":-0.15},{"c":"pl","t":700,"v":-0.17},{"c":"pl","t":745,"v":-0.25},{"c":"pl","t":770,"v":-0.05},{"c":"pl","t":800,"v":0.58},
{"c":"ph","t":-200,"v":0.45},{"c":"ph","t":-180,"v":0.28},{"c":"ph","t":-160,"v":0.25},{"c":"ph","t":-140,"v":0.3},{"c":"ph","t":-120,"v":0.2},{"c":"ph","t":-100,"v":0},{"c":"ph","t":-80,"v":-0.2},{"c":"ph","t":-60,"v":-0.35},{"c":"ph","t":-40,"v":-0.5},{"c":"ph","t":-20,"v":-0.65},{"c":"ph","t":0,"v":-0.85},{"c":"ph","t":20,"v":-1.1},{"c":"ph","t":40,"v":-1.25},{"c":"ph","t":55,"v":-1.35},{"c":"ph","t":70,"v":-1.38},{"c":"ph","t":85,"v":-1.2},{"c":"ph","t":100,"v":-0.65},{"c":"ph","t":115,"v":0},{"c":"ph","t":130,"v":0.45},{"c":"ph","t":143,"v":0.66},{"c":"ph","t":155,"v":0.35},{"c":"ph","t":168,"v":-0.1},{"c":"ph","t":180,"v":-0.3},{"c":"ph","t":192,"v":-0.15},{"c":"ph","t":205,"v":0.3},{"c":"ph","t":220,"v":0.85},{"c":"ph","t":240,"v":1.3},{"c":"ph","t":255,"v":1.6},{"c":"ph","t":270,"v":2},{"c":"ph","t":285,"v":2.6},{"c":"ph","t":300,"v":3},{"c":"ph","t":316,"v":3.25},{"c":"ph","t":330,"v":2.8},{"c":"ph","t":345,"v":2.1},{"c":"ph","t":360,"v":1.7},{"c":"ph","t":380,"v":1.68},{"c":"ph","t":410,"v":1.55},{"c":"ph","t":443,"v":1.3},{"c":"ph","t":475,"v":1.45},{"c":"ph","t":495,"v":1.46},{"c":"ph","t":520,"v":1.35},{"c":"ph","t":540,"v":0.9},{"c":"ph","t":552,"v":0.42},{"c":"ph","t":575,"v":0.04},{"c":"ph","t":610,"v":-0.25},{"c":"ph","t":645,"v":-0.5},{"c":"ph","t":670,"v":-0.2},{"c":"ph","t":706,"v":0.04},{"c":"ph","t":740,"v":-0.25},{"c":"ph","t":762,"v":-0.46},{"c":"ph","t":785,"v":0.1},{"c":"ph","t":800,"v":0.67}
],
"PzR":[
{"c":"nl","t":-200,"v":0.75},{"c":"nl","t":-185,"v":0.55},{"c":"nl","t":-165,"v":0.35},{"c":"nl","t":-140,"v":0.25},{"c":"nl","t":-120,"v":0.15},{"c":"nl","t":-90,"v":0},{"c":"nl","t":-70,"v":-0.2},{"c":"nl","t":-50,"v":-0.33},{"c":"nl","t":-30,"v":-0.45},{"c":"nl","t":-10,"v":-0.65},{"c":"nl","t":0,"v":-0.75},{"c":"nl","t":20,"v":-0.95},{"c":"nl","t":40,"v":-1.1},{"c":"nl","t":62,"v":-1.17},{"c":"nl","t":80,"v":-1},{"c":"nl","t":100,"v":-0.6},{"c":"nl","t":115,"v":-0.1},{"c":"nl","t":130,"v":0.4},{"c":"nl","t":143,"v":0.62},{"c":"nl","t":155,"v":0.35},{"c":"nl","t":168,"v":0.05},{"c":"nl","t":180,"v":-0.1},{"c":"nl","t":192,"v":0},{"c":"nl","t":210,"v":0.55},{"c":"nl","t":221,"v":0.92},{"c":"nl","t":240,"v":1.3},{"c":"nl","t":260,"v":1.67},{"c":"nl","t":280,"v":2.2},{"c":"nl","t":300,"v":2.9},{"c":"nl","t":312,"v":3.17},{"c":"nl","t":325,"v":2.8},{"c":"nl","t":340,"v":2.2},{"c":"nl","t":353,"v":1.8},{"c":"nl","t":365,"v":1.75},{"c":"nl","t":385,"v":1.9},{"c":"nl","t":399,"v":1.83},{"c":"nl","t":420,"v":1.7},{"c":"nl","t":438,"v":1.71},{"c":"nl","t":460,"v":2.25},{"c":"nl","t":480,"v":2.6},{"c":"nl","t":496,"v":2.75},{"c":"nl","t":515,"v":2.65},{"c":"nl","t":531,"v":2.58},{"c":"nl","t":550,"v":2.4},{"c":"nl","t":570,"v":2.2},{"c":"nl","t":595,"v":2.45},{"c":"nl","t":616,"v":2.54},{"c":"nl","t":640,"v":2.3},{"c":"nl","t":659,"v":2.12},{"c":"nl","t":680,"v":2.3},{"c":"nl","t":695,"v":2.33},{"c":"nl","t":715,"v":1.95},{"c":"nl","t":740,"v":1.58},{"c":"nl","t":765,"v":1.62},{"c":"nl","t":800,"v":1.75},
{"c":"nh","t":-200,"v":0.12},{"c":"nh","t":-180,"v":0.25},{"c":"nh","t":-160,"v":0.35},{"c":"nh","t":-140,"v":0.3},{"c":"nh","t":-120,"v":0.1},{"c":"nh","t":-100,"v":-0.05},{"c":"nh","t":-80,"v":-0.2},{"c":"nh","t":-60,"v":-0.3},{"c":"nh","t":-40,"v":-0.45},{"c":"nh","t":-20,"v":-0.6},{"c":"nh","t":0,"v":-0.8},{"c":"nh","t":20,"v":-1.05},{"c":"nh","t":40,"v":-1.2},{"c":"nh","t":60,"v":-1.3},{"c":"nh","t":74,"v":-1.42},{"c":"nh","t":90,"v":-1.1},{"c":"nh","t":105,"v":-0.4},{"c":"nh","t":120,"v":0.1},{"c":"nh","t":133,"v":0.6},{"c":"nh","t":143,"v":0.55},{"c":"nh","t":155,"v":0.1},{"c":"nh","t":170,"v":-0.3},{"c":"nh","t":182,"v":-0.42},{"c":"nh","t":195,"v":-0.1},{"c":"nh","t":210,"v":0.35},{"c":"nh","t":225,"v":0.8},{"c":"nh","t":240,"v":1.1},{"c":"nh","t":260,"v":1.45},{"c":"nh","t":280,"v":2.1},{"c":"nh","t":300,"v":2.8},{"c":"nh","t":315,"v":3.3},{"c":"nh","t":330,"v":2.7},{"c":"nh","t":345,"v":2.1},{"c":"nh","t":360,"v":1.9},{"c":"nh","t":375,"v":2.05},{"c":"nh","t":392,"v":2.25},{"c":"nh","t":405,"v":2.1},{"c":"nh","t":420,"v":1.8},{"c":"nh","t":440,"v":1.8},{"c":"nh","t":460,"v":2.05},{"c":"nh","t":484,"v":2.2},{"c":"nh","t":510,"v":2.1},{"c":"nh","t":531,"v":2},{"c":"nh","t":555,"v":1.75},{"c":"nh","t":580,"v":1.75},{"c":"nh","t":603,"v":1.75},{"c":"nh","t":625,"v":1.4},{"c":"nh","t":647,"v":1.17},{"c":"nh","t":670,"v":1.3},{"c":"nh","t":690,"v":1.42},{"c":"nh","t":710,"v":1.15},{"c":"nh","t":733,"v":0.87},{"c":"nh","t":760,"v":0.95},{"c":"nh","t":785,"v":1.15},{"c":"nh","t":800,"v":1.29},
{"c":"pl","t":-200,"v":0.6},{"c":"pl","t":-180,"v":0.45},{"c":"pl","t":-160,"v":0.35},{"c":"pl","t":-140,"v":0.2},{"c":"pl","t":-120,"v":0.15},{"c":"pl","t":-100,"v":0},{"c":"pl","t":-80,"v":-0.2},{"c":"pl","t":-60,"v":-0.35},{"c":"pl","t":-40,"v":-0.45},{"c":"pl","t":-20,"v":-0.6},{"c":"pl","t":0,"v":-0.8},{"c":"pl","t":20,"v":-1},{"c":"pl","t":40,"v":-1.15},{"c":"pl","t":60,"v":-1.3},{"c":"pl","t":75,"v":-1.35},{"c":"pl","t":90,"v":-1},{"c":"pl","t":105,"v":-0.4},{"c":"pl","t":118,"v":0.2},{"c":"pl","t":130,"v":0.55},{"c":"pl","t":140,"v":0.65},{"c":"pl","t":152,"v":0.3},{"c":"pl","t":165,"v":-0.2},{"c":"pl","t":178,"v":-0.4},{"c":"pl","t":190,"v":-0.1},{"c":"pl","t":205,"v":0.4},{"c":"pl","t":220,"v":0.9},{"c":"pl","t":240,"v":1.25},{"c":"pl","t":260,"v":1.6},{"c":"pl","t":280,"v":2.1},{"c":"pl","t":300,"v":2.75},{"c":"pl","t":315,"v":3.1},{"c":"pl","t":330,"v":2.6},{"c":"pl","t":345,"v":1.8},{"c":"pl","t":353,"v":1.6},{"c":"pl","t":370,"v":1.7},{"c":"pl","t":385,"v":1.75},{"c":"pl","t":400,"v":1.7},{"c":"pl","t":420,"v":1.4},{"c":"pl","t":446,"v":1.17},{"c":"pl","t":470,"v":1.25},{"c":"pl","t":492,"v":1.21},{"c":"pl","t":515,"v":1},{"c":"pl","t":535,"v":0.6},{"c":"pl","t":554,"v":0.25},{"c":"pl","t":570,"v":-0.2},{"c":"pl","t":585,"v":-0.22},{"c":"pl","t":600,"v":-0.15},{"c":"pl","t":620,"v":-0.25},{"c":"pl","t":640,"v":-0.6},{"c":"pl","t":659,"v":-0.75},{"c":"pl","t":680,"v":-0.45},{"c":"pl","t":700,"v":-0.3},{"c":"pl","t":720,"v":-0.45},{"c":"pl","t":733,"v":-0.67},{"c":"pl","t":755,"v":-0.2},{"c":"pl","t":775,"v":0.25},{"c":"pl","t":800,"v":0.5},
{"c":"ph","t":-200,"v":0.3},{"c":"ph","t":-180,"v":0.25},{"c":"ph","t":-160,"v":0.3},{"c":"ph","t":-140,"v":0.25},{"c":"ph","t":-120,"v":0.05},{"c":"ph","t":-100,"v":-0.1},{"c":"ph","t":-80,"v":-0.25},{"c":"ph","t":-60,"v":-0.35},{"c":"ph","t":-40,"v":-0.5},{"c":"ph","t":-20,"v":-0.62},{"c":"ph","t":0,"v":-0.8},{"c":"ph","t":20,"v":-1.05},{"c":"ph","t":40,"v":-1.2},{"c":"ph","t":60,"v":-1.3},{"c":"ph","t":74,"v":-1.35},{"c":"ph","t":90,"v":-1.05},{"c":"ph","t":105,"v":-0.3},{"c":"ph","t":118,"v":0.3},{"c":"ph","t":130,"v":0.7},{"c":"ph","t":140,"v":0.75},{"c":"ph","t":152,"v":0.4},{"c":"ph","t":165,"v":-0.1},{"c":"ph","t":178,"v":-0.45},{"c":"ph","t":190,"v":-0.2},{"c":"ph","t":205,"v":0.5},{"c":"ph","t":222,"v":1.3},{"c":"ph","t":235,"v":1.75},{"c":"ph","t":250,"v":1.8},{"c":"ph","t":265,"v":1.9},{"c":"ph","t":285,"v":2.5},{"c":"ph","t":300,"v":3.1},{"c":"ph","t":317,"v":3.5},{"c":"ph","t":330,"v":3},{"c":"ph","t":345,"v":2.1},{"c":"ph","t":360,"v":1.75},{"c":"ph","t":380,"v":1.85},{"c":"ph","t":400,"v":1.8},{"c":"ph","t":425,"v":1.6},{"c":"ph","t":453,"v":1.54},{"c":"ph","t":475,"v":1.65},{"c":"ph","t":492,"v":1.71},{"c":"ph","t":515,"v":1.55},{"c":"ph","t":531,"v":1.46},{"c":"ph","t":550,"v":1.05},{"c":"ph","t":570,"v":0.71},{"c":"ph","t":600,"v":0.67},{"c":"ph","t":618,"v":0.2},{"c":"ph","t":640,"v":0.04},{"c":"ph","t":670,"v":0.1},{"c":"ph","t":709,"v":0.25},{"c":"ph","t":735,"v":0.15},{"c":"ph","t":757,"v":0.04},{"c":"ph","t":780,"v":0.25},{"c":"ph","t":800,"v":0.54}
]
},
"columns":2,
"spacing":{"row":55,"column":52},
"resolve":{"scale":{"color":"independent","strokeDash":"independent"},"legend":{"color":"independent","strokeDash":"independent"}},
"concat":[
{
"width":430,"height":320,
"title":{"text":"switch probability effect","fontSize":34,"fontWeight":"bold","color":"black","anchor":"middle","dx":37,"offset":49},
"layer":[
{"data":{"name":"FzL"},"mark":{"type":"line","strokeWidth":3,"interpolate":"monotone"},
"encoding":{"x":{"field":"t","type":"quantitative","scale":{"domain":[-200,800],"nice":false,"zero":false},"axis":null},
"y":{"field":"v","type":"quantitative","scale":{"domain":[-4,4],"nice":false,"zero":false},"axis":null},
"color":{"field":"c","type":"nominal","scale":{"domain":["nl","nh","pl","ph"],"range":["#990000","#0000ff","#990000","#0000ff"]},"legend":{"orient":"none","legendX":119,"legendY":310,"title":null,"symbolType":"M-5,0H5","symbolSize":117,"symbolStrokeWidth":3,"labelFontSize":26,"labelFontWeight":"bold","labelColor":"black","labelOffset":45,"rowPadding":5,"labelLimit":600,"padding":0,"labelExpr":"datum.label == 'nl' ? 'neg PF | low prob' : datum.label == 'nh' ? 'neg PF | high prob' : datum.label == 'pl' ? 'pos PF | low prob' : 'pos PF | high prob'"}},
"strokeDash":{"field":"c","type":"nominal","scale":{"domain":["nl","nh","pl","ph"],"range":[[1,0],[1,0],[7,4],[7,4]]},"legend":{"orient":"none","legendX":119,"legendY":310,"title":null,"symbolType":"M-5,0H5","symbolSize":117,"symbolStrokeWidth":3,"labelFontSize":26,"labelFontWeight":"bold","labelColor":"black","labelOffset":45,"rowPadding":5,"labelLimit":600,"padding":0,"labelExpr":"datum.label == 'nl' ? 'neg PF | low prob' : datum.label == 'nh' ? 'neg PF | high prob' : datum.label == 'pl' ? 'pos PF | low prob' : 'pos PF | high prob'"}}}},
{"data":{"values":[{}]},"mark":{"type":"rule","color":"black","strokeWidth":4},"encoding":{"y":{"datum":0,"type":"quantitative","axis":null}}},
{"data":{"values":[{}]},"mark":{"type":"rule","color":"black","strokeWidth":4},"encoding":{"x":{"datum":0,"type":"quantitative","axis":null}}},
{"data":{"name":"xt"},"mark":{"type":"tick","orient":"vertical","size":18,"thickness":4.5,"color":"black","opacity":1},"encoding":{"x":{"field":"t","type":"quantitative","axis":null},"y":{"datum":0,"type":"quantitative","axis":null}}},
{"data":{"name":"yt"},"mark":{"type":"tick","orient":"horizontal","size":19,"thickness":4.5,"color":"black","opacity":1},"encoding":{"y":{"field":"v","type":"quantitative","axis":null},"x":{"datum":0,"type":"quantitative","axis":null}}},
{"data":{"values":[{}]},"mark":{"type":"text","text":"Fz","align":"left","baseline":"middle","fontSize":25,"fontWeight":"bold","color":"black"},"encoding":{"x":{"datum":-168,"type":"quantitative","axis":null},"y":{"datum":3.57,"type":"quantitative","axis":null}}}
]
},
{
"width":430,"height":320,
"title":{"text":"task uncertainty effect","fontSize":34,"fontWeight":"bold","color":"black","anchor":"middle","dx":33,"offset":49},
"layer":[
{"data":{"name":"FzR"},"mark":{"type":"line","strokeWidth":3,"interpolate":"monotone"},
"encoding":{"x":{"field":"t","type":"quantitative","scale":{"domain":[-200,800],"nice":false,"zero":false},"axis":null},
"y":{"field":"v","type":"quantitative","scale":{"domain":[-4,4],"nice":false,"zero":false},"axis":null},
"color":{"field":"c","type":"nominal","scale":{"domain":["nl","nh","pl","ph"],"range":["#000000","#168c16","#000000","#168c16"]},"legend":{"orient":"none","legendX":119,"legendY":310,"title":null,"symbolType":"M-5,0H5","symbolSize":117,"symbolStrokeWidth":3,"labelFontSize":26,"labelFontWeight":"bold","labelColor":"black","labelOffset":45,"rowPadding":5,"labelLimit":600,"padding":0,"labelExpr":"datum.label == 'nl' ? 'neg PF | low uncert' : datum.label == 'nh' ? 'neg PF | high uncert' : datum.label == 'pl' ? 'pos PF | low uncert' : 'pos PF | high uncert'"}},
"strokeDash":{"field":"c","type":"nominal","scale":{"domain":["nl","nh","pl","ph"],"range":[[1,0],[1,0],[7,4],[7,4]]},"legend":{"orient":"none","legendX":119,"legendY":310,"title":null,"symbolType":"M-5,0H5","symbolSize":117,"symbolStrokeWidth":3,"labelFontSize":26,"labelFontWeight":"bold","labelColor":"black","labelOffset":45,"rowPadding":5,"labelLimit":600,"padding":0,"labelExpr":"datum.label == 'nl' ? 'neg PF | low uncert' : datum.label == 'nh' ? 'neg PF | high uncert' : datum.label == 'pl' ? 'pos PF | low uncert' : 'pos PF | high uncert'"}}}},
{"data":{"values":[{}]},"mark":{"type":"rule","color":"black","strokeWidth":4},"encoding":{"y":{"datum":0,"type":"quantitative","axis":null}}},
{"data":{"values":[{}]},"mark":{"type":"rule","color":"black","strokeWidth":4},"encoding":{"x":{"datum":0,"type":"quantitative","axis":null}}},
{"data":{"name":"xt"},"mark":{"type":"tick","orient":"vertical","size":18,"thickness":4.5,"color":"black","opacity":1},"encoding":{"x":{"field":"t","type":"quantitative","axis":null},"y":{"datum":0,"type":"quantitative","axis":null}}},
{"data":{"name":"yt"},"mark":{"type":"tick","orient":"horizontal","size":19,"thickness":4.5,"color":"black","opacity":1},"encoding":{"y":{"field":"v","type":"quantitative","axis":null},"x":{"datum":0,"type":"quantitative","axis":null}}}
]
},
{
"width":430,"height":320,
"layer":[
{"data":{"name":"CzL"},"mark":{"type":"line","strokeWidth":3,"interpolate":"monotone"},
"encoding":{"x":{"field":"t","type":"quantitative","scale":{"domain":[-200,800],"nice":false,"zero":false},"axis":null},
"y":{"field":"v","type":"quantitative","scale":{"domain":[-4,4],"nice":false,"zero":false},"axis":null},
"color":{"field":"c","type":"nominal","scale":{"domain":["nl","nh","pl","ph"],"range":["#990000","#0000ff","#990000","#0000ff"]},"legend":null},
"strokeDash":{"field":"c","type":"nominal","scale":{"domain":["nl","nh","pl","ph"],"range":[[1,0],[1,0],[7,4],[7,4]]},"legend":null}}},
{"data":{"values":[{}]},"mark":{"type":"rule","color":"black","strokeWidth":4},"encoding":{"y":{"datum":0,"type":"quantitative","axis":null}}},
{"data":{"values":[{}]},"mark":{"type":"rule","color":"black","strokeWidth":4},"encoding":{"x":{"datum":0,"type":"quantitative","axis":null}}},
{"data":{"name":"xt"},"mark":{"type":"tick","orient":"vertical","size":18,"thickness":4.5,"color":"black","opacity":1},"encoding":{"x":{"field":"t","type":"quantitative","axis":null},"y":{"datum":0,"type":"quantitative","axis":null}}},
{"data":{"name":"yt"},"mark":{"type":"tick","orient":"horizontal","size":19,"thickness":4.5,"color":"black","opacity":1},"encoding":{"y":{"field":"v","type":"quantitative","axis":null},"x":{"datum":0,"type":"quantitative","axis":null}}},
{"data":{"values":[{}]},"mark":{"type":"text","text":"Cz","align":"left","baseline":"middle","fontSize":25,"fontWeight":"bold","color":"black"},"encoding":{"x":{"datum":-168,"type":"quantitative","axis":null},"y":{"datum":3.6,"type":"quantitative","axis":null}}}
]
},
{
"width":430,"height":320,
"layer":[
{"data":{"name":"CzR"},"mark":{"type":"line","strokeWidth":3,"interpolate":"monotone"},
"encoding":{"x":{"field":"t","type":"quantitative","scale":{"domain":[-200,800],"nice":false,"zero":false},"axis":null},
"y":{"field":"v","type":"quantitative","scale":{"domain":[-4,4],"nice":false,"zero":false},"axis":null},
"color":{"field":"c","type":"nominal","scale":{"domain":["nl","nh","pl","ph"],"range":["#000000","#168c16","#000000","#168c16"]},"legend":null},
"strokeDash":{"field":"c","type":"nominal","scale":{"domain":["nl","nh","pl","ph"],"range":[[1,0],[1,0],[7,4],[7,4]]},"legend":null}}},
{"data":{"values":[{}]},"mark":{"type":"rule","color":"black","strokeWidth":4},"encoding":{"y":{"datum":0,"type":"quantitative","axis":null}}},
{"data":{"values":[{}]},"mark":{"type":"rule","color":"black","strokeWidth":4},"encoding":{"x":{"datum":0,"type":"quantitative","axis":null}}},
{"data":{"name":"xt"},"mark":{"type":"tick","orient":"vertical","size":18,"thickness":4.5,"color":"black","opacity":1},"encoding":{"x":{"field":"t","type":"quantitative","axis":null},"y":{"datum":0,"type":"quantitative","axis":null}}},
{"data":{"name":"yt"},"mark":{"type":"tick","orient":"horizontal","size":19,"thickness":4.5,"color":"black","opacity":1},"encoding":{"y":{"field":"v","type":"quantitative","axis":null},"x":{"datum":0,"type":"quantitative","axis":null}}}
]
},
{
"width":430,"height":320,
"layer":[
{"data":{"name":"psp"},"mark":{"type":"rect","color":"#f4f4f4"},"encoding":{"x":{"field":"from","type":"quantitative","scale":{"domain":[-200,800],"nice":false,"zero":false}},"x2":{"field":"to"},"y":{"datum":-4,"type":"quantitative","scale":{"domain":[-4,4],"nice":false,"zero":false}},"y2":{"datum":4}}},
{"data":{"values":[{}]},"mark":{"type":"text","text":"PSP","fontSize":24,"fontWeight":"bold","color":"#333333","align":"center","baseline":"middle"},"encoding":{"x":{"datum":700,"type":"quantitative"},"y":{"datum":-3.65,"type":"quantitative"}}},
{"data":{"name":"PzL"},"mark":{"type":"line","strokeWidth":3,"interpolate":"monotone"},
"encoding":{"x":{"field":"t","type":"quantitative","scale":{"domain":[-200,800],"nice":false,"zero":false},"axis":{"values":[-200,200,400,600,800],"offset":-160,"domain":false,"ticks":false,"grid":false,"title":null,"labelFontSize":25,"labelFontWeight":"bold","labelColor":"black","labelPadding":11,"labelFlush":false,"labelOverlap":false,"labelBound":false,"zindex":3}},
"y":{"field":"v","type":"quantitative","scale":{"domain":[-4,4],"nice":false,"zero":false},"axis":{"values":[-4,-2,2,4],"offset":-86,"domain":false,"ticks":false,"grid":false,"title":null,"labelFontSize":25,"labelFontWeight":"bold","labelColor":"black","labelPadding":16,"labelFlush":false,"labelOverlap":false,"labelBound":false,"zindex":3}},
"color":{"field":"c","type":"nominal","scale":{"domain":["nl","nh","pl","ph"],"range":["#990000","#0000ff","#990000","#0000ff"]},"legend":null},
"strokeDash":{"field":"c","type":"nominal","scale":{"domain":["nl","nh","pl","ph"],"range":[[1,0],[1,0],[7,4],[7,4]]},"legend":null}}},
{"data":{"values":[{}]},"mark":{"type":"rule","color":"black","strokeWidth":4},"encoding":{"y":{"datum":0,"type":"quantitative"}}},
{"data":{"values":[{}]},"mark":{"type":"rule","color":"black","strokeWidth":4},"encoding":{"x":{"datum":0,"type":"quantitative"}}},
{"data":{"name":"xt"},"mark":{"type":"tick","orient":"vertical","size":18,"thickness":4.5,"color":"black","opacity":1},"encoding":{"x":{"field":"t","type":"quantitative"},"y":{"datum":0,"type":"quantitative"}}},
{"data":{"name":"yt"},"mark":{"type":"tick","orient":"horizontal","size":19,"thickness":4.5,"color":"black","opacity":1},"encoding":{"y":{"field":"v","type":"quantitative"},"x":{"datum":0,"type":"quantitative"}}},
{"data":{"values":[{}]},"mark":{"type":"text","text":"Pz","align":"left","baseline":"middle","fontSize":25,"fontWeight":"bold","color":"black"},"encoding":{"x":{"datum":-168,"type":"quantitative"},"y":{"datum":3.57,"type":"quantitative"}}},
{"data":{"values":[{}]},"mark":{"type":"text","text":"µV","align":"left","baseline":"middle","fontSize":24,"fontWeight":"bold","color":"black"},"encoding":{"x":{"datum":53,"type":"quantitative"},"y":{"datum":3.58,"type":"quantitative"}}},
{"data":{"values":[{}]},"mark":{"type":"text","text":"ms","align":"center","baseline":"alphabetic","fontSize":25,"fontWeight":"bold","color":"black"},"encoding":{"x":{"datum":703,"type":"quantitative"},"y":{"datum":-1.37,"type":"quantitative"}}}
]
},
{
"width":430,"height":320,
"layer":[
{"data":{"name":"psp"},"mark":{"type":"rect","color":"#f4f4f4"},"encoding":{"x":{"field":"from","type":"quantitative","scale":{"domain":[-200,800],"nice":false,"zero":false},"axis":null},"x2":{"field":"to"},"y":{"datum":-4,"type":"quantitative","scale":{"domain":[-4,4],"nice":false,"zero":false},"axis":null},"y2":{"datum":4}}},
{"data":{"values":[{}]},"mark":{"type":"text","text":"PSP","fontSize":24,"fontWeight":"bold","color":"#333333","align":"center","baseline":"middle"},"encoding":{"x":{"datum":700,"type":"quantitative","axis":null},"y":{"datum":-3.65,"type":"quantitative","axis":null}}},
{"data":{"name":"PzR"},"mark":{"type":"line","strokeWidth":3,"interpolate":"monotone"},
"encoding":{"x":{"field":"t","type":"quantitative","scale":{"domain":[-200,800],"nice":false,"zero":false},"axis":null},
"y":{"field":"v","type":"quantitative","scale":{"domain":[-4,4],"nice":false,"zero":false},"axis":null},
"color":{"field":"c","type":"nominal","scale":{"domain":["nl","nh","pl","ph"],"range":["#000000","#168c16","#000000","#168c16"]},"legend":null},
"strokeDash":{"field":"c","type":"nominal","scale":{"domain":["nl","nh","pl","ph"],"range":[[1,0],[1,0],[7,4],[7,4]]},"legend":null}}},
{"data":{"values":[{}]},"mark":{"type":"rule","color":"black","strokeWidth":4},"encoding":{"y":{"datum":0,"type":"quantitative","axis":null}}},
{"data":{"values":[{}]},"mark":{"type":"rule","color":"black","strokeWidth":4},"encoding":{"x":{"datum":0,"type":"quantitative","axis":null}}},
{"data":{"name":"xt"},"mark":{"type":"tick","orient":"vertical","size":18,"thickness":4.5,"color":"black","opacity":1},"encoding":{"x":{"field":"t","type":"quantitative","axis":null},"y":{"datum":0,"type":"quantitative","axis":null}}},
{"data":{"name":"yt"},"mark":{"type":"tick","orient":"horizontal","size":19,"thickness":4.5,"color":"black","opacity":1},"encoding":{"y":{"field":"v","type":"quantitative","axis":null},"x":{"datum":0,"type":"quantitative","axis":null}}}
]
}
]
}
